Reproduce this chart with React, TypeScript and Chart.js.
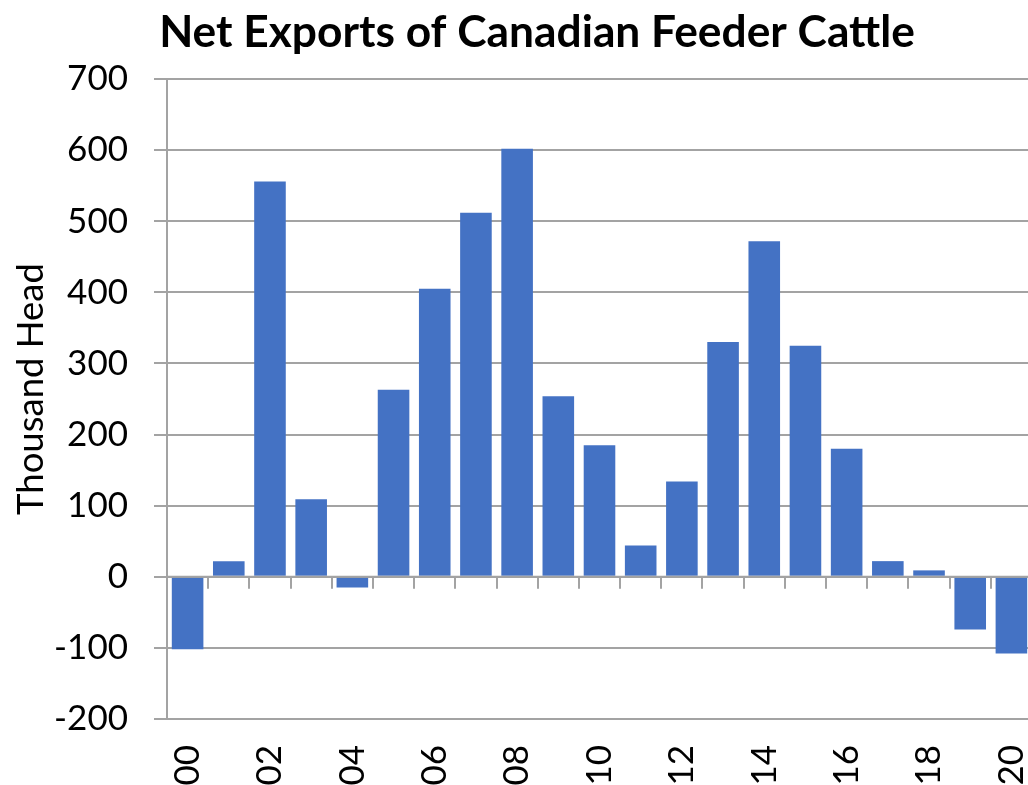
import React, { useEffect, useRef } from "react";
import { Chart, registerables } from "chart.js";

Chart.register(...registerables);

const years: string[] = [
  "00", "01", "02", "03", "04", "05", "06", "07", "08", "09", "10",
  "11", "12", "13", "14", "15", "16", "17", "18", "19", "20",
];
const netExports: number[] = [
  -102, 22, 556, 109, -15, 263, 405, 512, 602, 254, 185,
  44, 134, 330, 472, 325, 180, 22, 9, -74, -108,
];
const yTicks: number[] = [-200, -100, 0, 100, 200, 300, 400, 500, 600, 700];
const titleText = "Net Exports of Canadian Feeder Cattle";
const yTitle = "Thousand Head";

const GRID = "#a3a3a3";
const BAR = "#4472C4";
const FONT = "Lato";

const zeroAxisPlugin = {
  id: "zeroAxis",
  afterDatasetsDraw(chart: any) {
    const { ctx, scales } = chart;
    const x = scales.x;
    const y = scales.y;
    const y0 = y.getPixelForValue(0);
    ctx.save();
    ctx.strokeStyle = GRID;
    ctx.lineWidth = 2;
    ctx.beginPath();
    ctx.moveTo(x.left, y0);
    ctx.lineTo(x.right, y0);
    const n = years.length;
    const w = (x.right - x.left) / n;
    for (let i = 1; i < n; i++) {
      const px = Math.round(x.left + i * w);
      ctx.moveTo(px, y0);
      ctx.lineTo(px, y0 + 12);
    }
    ctx.stroke();
    ctx.restore();
  },
};

const titlesPlugin = {
  id: "titles",
  afterDraw(chart: any) {
    const { ctx } = chart;
    ctx.save();
    ctx.fillStyle = "#000";
    ctx.font = `bold 44.3px ${FONT}`;
    ctx.textAlign = "center";
    ctx.textBaseline = "alphabetic";
    ctx.fillText(titleText, 537, 47);
    ctx.translate(43, 389);
    ctx.rotate(-Math.PI / 2);
    ctx.font = `36.5px ${FONT}`;
    ctx.fillText(yTitle, 0, 0);
    ctx.restore();
  },
};

export default function App() {
  const ref = useRef<HTMLCanvasElement | null>(null);
  useEffect(() => {
    if (!ref.current) return;
    const chart = new Chart(ref.current, {
      type: "bar",
      data: {
        labels: years,
        datasets: [
          {
            data: netExports,
            backgroundColor: BAR,
            borderWidth: 0,
            barPercentage: 0.767,
            categoryPercentage: 1,
          },
        ],
      },
      plugins: [zeroAxisPlugin, titlesPlugin],
      options: {
        animation: false,
        responsive: false,
        devicePixelRatio: 1,
        layout: { padding: { left: 0, right: 8, top: 79, bottom: 0 } },
        plugins: {
          legend: { display: false },
          tooltip: { enabled: false },
          title: { display: false },
        },
        scales: {
          x: {
            type: "category",
            offset: true,
            grid: { display: false, drawTicks: false },
            border: { display: false },
            ticks: {
              autoSkip: false,
              minRotation: 90,
              maxRotation: 90,
              padding: 26,
              color: "#000",
              font: { family: FONT, size: 35 },
              callback: (_v: any, i: number) => (i % 2 === 0 ? years[i] : ""),
            },
            afterFit: (s: any) => {
              s.height = 66;
              s.paddingLeft = 0;
              s.paddingRight = 0;
            },
          },
          y: {
            min: -200,
            max: 700,
            afterBuildTicks: (s: any) => {
              s.ticks = yTicks.map((v) => ({ value: v }));
            },
            grid: {
              color: GRID,
              lineWidth: 2,
              drawTicks: true,
              tickLength: 13,
            },
            border: { display: true, color: GRID, width: 2 },
            ticks: {
              padding: 26,
              color: "#000",
              font: { family: FONT, size: 35 },
            },
            afterFit: (s: any) => {
              s.width = 167;
              s.paddingTop = 0;
              s.paddingBottom = 0;
            },
          },
        },
      },
    });
    return () => chart.destroy();
  }, []);
  return (
    <div
      style={{
        position: "fixed",
        left: 0,
        top: 0,
        width: 1028,
        height: 785,
        overflow: "hidden",
        background: "#fff",
      }}
    >
      <canvas ref={ref} width={1040} height={785} style={{ display: "block" }} />
    </div>
  );
}
